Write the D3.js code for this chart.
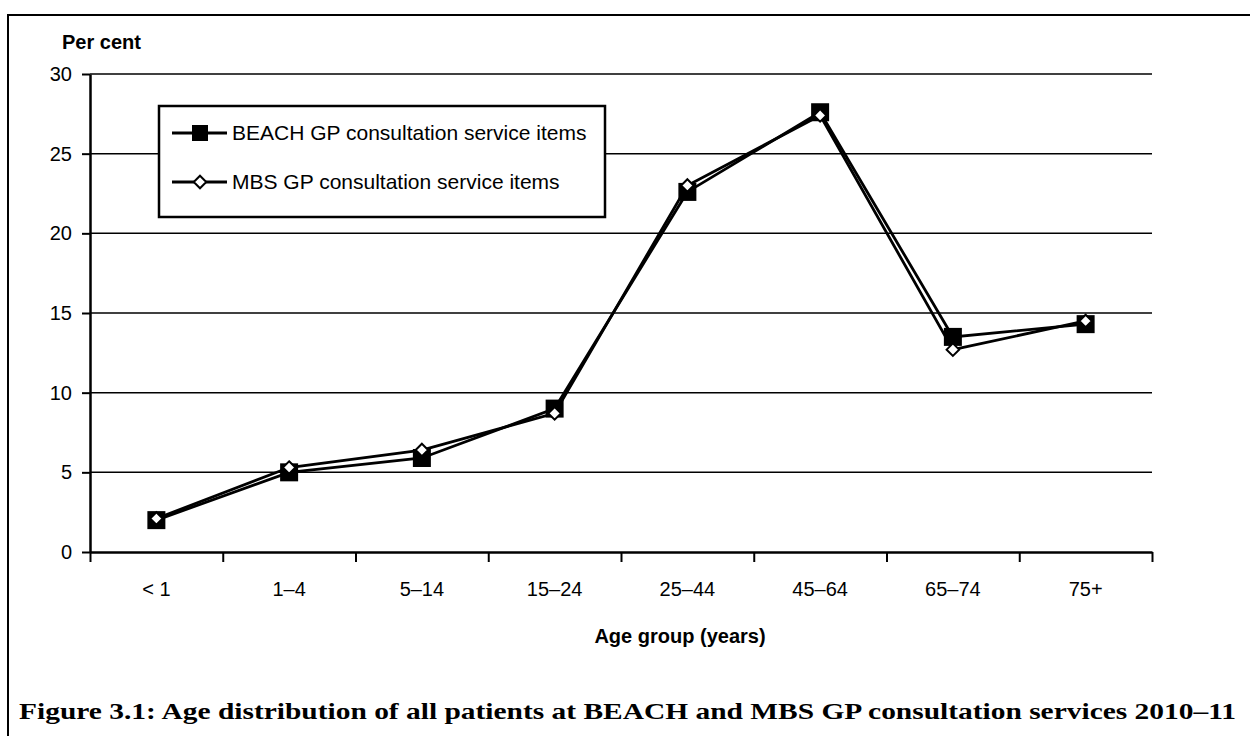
<!DOCTYPE html>
<html>
<head>
<meta charset="utf-8">
<title>Age distribution of patients</title>
<script src="https://d3js.org/d3.v7.min.js"></script>
<style>
  body { margin: 0; background: #fff; }
  svg { display: block; }
  text { font-family: "Liberation Sans", Arial, sans-serif; fill: #000; }
  .caption { font-family: "Liberation Serif", "DejaVu Serif", serif; font-weight: bold; }
</style>
</head>
<body>
<div id="holder"></div>
<script>
// data
const ageGroups = ["< 1", "1–4", "5–14", "15–24", "25–44", "45–64", "65–74", "75+"];
const beachValues = [2.0, 5.0, 5.9, 9.0, 22.6, 27.6, 13.5, 14.3];
const mbsValues = [2.1, 5.3, 6.4, 8.7, 23.0, 27.4, 12.7, 14.5];
const yTicks = [0, 5, 10, 15, 20, 25, 30];
const seriesNames = ["BEACH GP consultation service items", "MBS GP consultation service items"];

const w = 1250, h = 736;
const plotLeft = 90, plotRight = 1152, plotTop = 74, plotBottom = 552;

const svg = d3.select("#holder").append("svg")
  .attr("width", w)
  .attr("height", h);

// outer frame (runs off the page right and bottom)
svg.append("rect")
  .attr("x", 8).attr("y", 15)
  .attr("width", 1300).attr("height", 800)
  .attr("fill", "none").attr("stroke", "#000").attr("stroke-width", 2);

const x = d3.scaleBand().domain(ageGroups).range([plotLeft, plotRight]).padding(0);
const xEdges = d3.scaleLinear().domain([0, ageGroups.length]).range([plotLeft, plotRight]);
const y = d3.scaleLinear().domain([0, 30]).range([plotBottom, plotTop]);

// gridlines
svg.append("g")
  .selectAll("line")
  .data(yTicks.filter(d => d > 0))
  .join("line")
  .attr("x1", plotLeft).attr("x2", plotRight)
  .attr("y1", d => y(d)).attr("y2", d => y(d))
  .attr("stroke", "#000").attr("stroke-width", 1.5);

// y axis
const yAxis = svg.append("g")
  .attr("transform", "translate(" + plotLeft + ",0)")
  .call(d3.axisLeft(y).tickValues(yTicks).tickSize(8).tickPadding(10).tickSizeOuter(0));
yAxis.select(".domain").attr("stroke-width", 2.5);
yAxis.selectAll(".tick line").attr("stroke-width", 2);
yAxis.selectAll("text").style("font-size", "20px").style("font-family", "Liberation Sans, Arial, sans-serif").attr("fill", "#000");

// x axis: tick marks on category edges
const xTickAxis = svg.append("g")
  .attr("transform", "translate(0," + plotBottom + ")")
  .call(d3.axisBottom(xEdges).ticks(ageGroups.length).tickSize(10).tickFormat("").tickSizeOuter(0));
xTickAxis.select(".domain").attr("stroke-width", 2.5);
xTickAxis.selectAll(".tick line").attr("stroke-width", 2);

// x axis labels
const xLabelAxis = svg.append("g")
  .attr("transform", "translate(0," + plotBottom + ")")
  .call(d3.axisBottom(x).tickSize(0).tickPadding(30));
xLabelAxis.select(".domain").remove();
xLabelAxis.selectAll("text").style("font-size", "20px").style("font-family", "Liberation Sans, Arial, sans-serif").attr("fill", "#000");

// axis titles
svg.append("text")
  .attr("x", 62).attr("y", 49)
  .style("font-size", "20px").style("font-weight", "bold")
  .text("Per cent");

svg.append("text")
  .attr("x", 680).attr("y", 643)
  .attr("text-anchor", "middle")
  .style("font-size", "20px").style("font-weight", "bold")
  .text("Age group (years)");

// lines and markers
const line = d3.line()
  .x((d, i) => x(ageGroups[i]) + x.bandwidth() / 2)
  .y(d => y(d));

svg.append("path")
  .datum(beachValues)
  .attr("d", line)
  .attr("fill", "none").attr("stroke", "#000").attr("stroke-width", 2.8);

svg.append("path")
  .datum(mbsValues)
  .attr("d", line)
  .attr("fill", "none").attr("stroke", "#000").attr("stroke-width", 2.8);

const sq = 18;
svg.append("g")
  .selectAll("rect")
  .data(beachValues)
  .join("rect")
  .attr("x", (d, i) => x(ageGroups[i]) + x.bandwidth() / 2 - sq / 2)
  .attr("y", d => y(d) - sq / 2)
  .attr("width", sq).attr("height", sq)
  .attr("fill", "#000");

const diamond = d3.symbol().type(d3.symbolDiamond2).size(100);
svg.append("g")
  .selectAll("path")
  .data(mbsValues)
  .join("path")
  .attr("transform", (d, i) => "translate(" + (x(ageGroups[i]) + x.bandwidth() / 2) + "," + y(d) + ")")
  .attr("d", diamond)
  .attr("fill", "#fff").attr("stroke", "#000").attr("stroke-width", 2);

// legend
const legend = svg.append("g");
legend.append("rect")
  .attr("x", 159).attr("y", 106)
  .attr("width", 446).attr("height", 111)
  .attr("fill", "#fff").attr("stroke", "#000").attr("stroke-width", 2.5);

const legendRows = [133, 182];
legendRows.forEach((ly, i) => {
  legend.append("line")
    .attr("x1", 172).attr("x2", 227)
    .attr("y1", ly).attr("y2", ly)
    .attr("stroke", "#000").attr("stroke-width", 2.8);
  if (i === 0) {
    legend.append("rect")
      .attr("x", 200 - 8).attr("y", ly - 8)
      .attr("width", 16).attr("height", 16)
      .attr("fill", "#000");
  } else {
    legend.append("path")
      .attr("transform", "translate(200," + ly + ")")
      .attr("d", diamond)
      .attr("fill", "#fff").attr("stroke", "#000").attr("stroke-width", 2);
  }
  legend.append("text")
    .attr("x", 232).attr("y", ly)
    .attr("dy", "0.35em")
    .style("font-size", "21px")
    .text(seriesNames[i]);
});

// caption
svg.append("text")
  .attr("class", "caption")
  .attr("x", 19).attr("y", 719)
  .attr("textLength", 1217)
  .attr("lengthAdjust", "spacingAndGlyphs")
  .style("font-size", "24px")
  .text("Figure 3.1: Age distribution of all patients at BEACH and MBS GP consultation services 2010–11");
</script>
</body>
</html>
